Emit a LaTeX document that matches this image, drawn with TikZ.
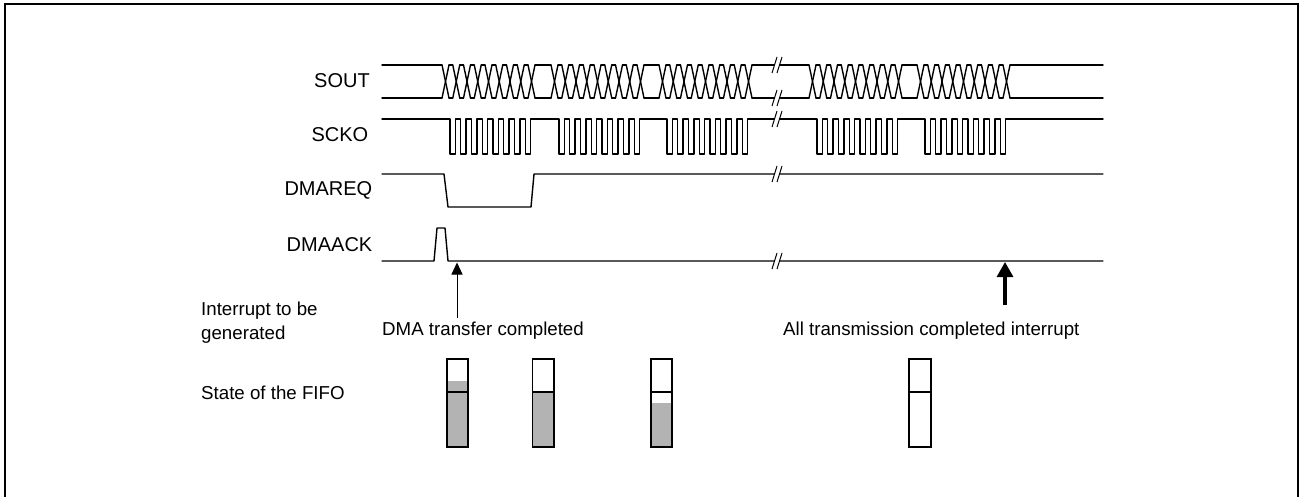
\documentclass[tikz,border=0pt]{standalone}
\usepackage{fontspec}
\setmainfont{Liberation Sans}
\usetikzlibrary{arrows.meta}
\definecolor{fifogray}{RGB}{179,179,179}
\begin{document}
\begin{tikzpicture}[x=1pt,y=-1pt,
  sig/.style={line width=1.4pt, line cap=round, line join=round},
  lbl/.style={font=\fontsize{20}{24}\selectfont, anchor=base east, inner sep=0pt},
  txt/.style={font=\fontsize{18.7}{22}\selectfont, anchor=base west, inner sep=0pt},
  fifobox/.style={line width=1.5pt},
  brk/.style={line width=1pt}]
\clip (0,0) rectangle (1300,497);
\draw[line width=2.2pt] (5,4) rectangle (1298,540);

% labels
\node[lbl] (lsout) at (370,88) {SOUT};
\node[lbl] (lscko) at (368.5,142) {SCKO};
\node[lbl] (lreq) at (372.5,196) {DMAREQ};
\node[lbl] (lack) at (372.5,251) {DMAACK};

% SOUT bus
\foreach \s in {442,551,659,809,917} {
  \foreach \k in {0,...,8} {
    \draw[sig] ({\s+\k*10.75},65) -- ({\s+7+\k*10.75},98);
    \draw[sig] ({\s+\k*10.75},98) -- ({\s+7+\k*10.75},65);
  }
  \foreach \k in {0,...,7} {
    \draw[sig] ({\s+7+\k*10.75},65) -- ({\s+(\k+1)*10.75},65);
    \draw[sig] ({\s+7+\k*10.75},98) -- ({\s+(\k+1)*10.75},98);
  }
}
\foreach \a/\b in {382/442,535/551,644/659,752/809,902/917,1010/1103} {
  \draw[sig] (\a,65) -- (\b,65);
  \draw[sig] (\a,98) -- (\b,98);
}

% SCKO
\draw[sig] (382,119)
  \foreach \s in {442,551,659,809,917} {
    \foreach \k in {0,...,7} {
      -- ({\s+8+\k*10.75},119) -- ({\s+8+\k*10.75},154)
      -- ({\s+8+\k*10.75+5.375},154) -- ({\s+8+\k*10.75+5.375},119)
    }
  } -- (1103,119);

% DMAREQ
\draw[sig] (382,174) -- (444,174) -- (448,207) -- (531,207) -- (534,174) -- (1103,174);

% DMAACK
\draw[sig] (382,261) -- (434,261) -- (437,228) -- (445,228) -- (448,261) -- (1103,261);

% break marks
\foreach \y in {65,98,119,174,261} {
  \fill[white] (772,\y+8) -- (777,\y-8) -- (782,\y-8) -- (777,\y+8) -- cycle;
  \draw[brk] (772,\y+8) -- (777,\y-8);
  \draw[brk] (777,\y+8) -- (782,\y-8);
}

% arrows
\coordinate (a1s) at (457,318);
\coordinate (a1e) at (457,262.5);
\draw[line width=1pt, -{Triangle[width=11pt,length=12pt]}] (a1s) -- (a1e);
\coordinate (a2s) at (1005,305);
\coordinate (a2e) at (1005,262);
\draw[line width=3.2pt, -{Triangle[width=16pt,length=15pt]}] (a2s) -- (a2e);

% texts
\node[txt] (t1) at (201,315) {Interrupt to be};
\node[txt] (t2) at (201,339) {generated};
\node[txt] (t3) at (201,399) {State of the FIFO};
\node[txt] (t4) at (382,335) {DMA transfer completed};
\node[txt] (t5) at (783,335) {All transmission completed interrupt};

% FIFO states
\fill[fifogray] (447,381) rectangle (468,447);
\fill[fifogray] (532.5,392) rectangle (554,447);
\fill[fifogray] (651,403) rectangle (672,447);
\foreach \xa/\xb in {447/468,532.5/554,651/672,909/931} {
  \draw[fifobox] (\xa,359) rectangle (\xb,447);
  \draw[fifobox] (\xa,392) -- (\xb,392);
}
\end{tikzpicture}
\end{document}
